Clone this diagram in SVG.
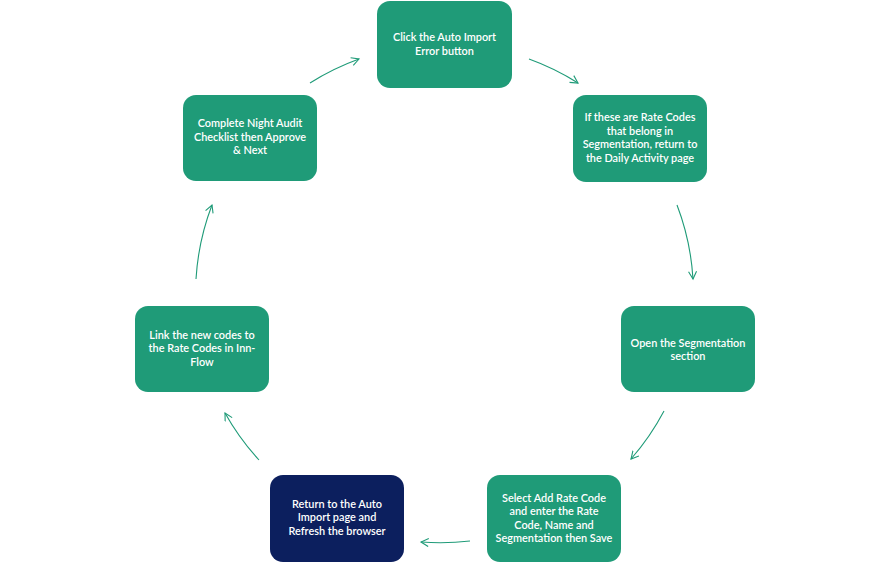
<svg xmlns="http://www.w3.org/2000/svg" width="890" height="563" viewBox="0 0 890 563">
<style>
.g{fill:#1f9b78}
.n{fill:#0c1f5e}
text{font-family:Lato,"Open Sans","Liberation Sans",sans-serif;font-size:10.9px;fill:#ffffff;text-anchor:middle;font-weight:600}
.c{fill:none;stroke:#1f9b78;stroke-width:1.1;marker-end:url(#ah)}
</style>
<defs>
<marker id="ah" markerUnits="userSpaceOnUse" markerWidth="12" markerHeight="12" refX="8" refY="4.5" orient="auto" viewBox="0 0 12 12">
<path d="M0.5,0.5 L8,4.5 L0.5,8.5" fill="none" stroke="#1f9b78" stroke-width="1.1"/>
</marker>
</defs>
<rect width="890" height="563" fill="#ffffff"/>
<g id="connectors">
<path class="c" d="M529,59 A249,249 0 0 1 578,83"/>
<path class="c" d="M677,205 A249,249 0 0 1 693,279"/>
<path class="c" d="M664,411 A249,249 0 0 1 631,459"/>
<path class="c" d="M470,541 A249,249 0 0 1 421,542"/>
<path class="c" d="M259,460 A249,249 0 0 1 225,413"/>
<path class="c" d="M196,279 A249,249 0 0 1 212,205"/>
<path class="c" d="M310,83 A249,249 0 0 1 359,59"/>
</g>
<g id="node1">
<rect class="g" x="377" y="1" width="135" height="87" rx="13"/>
<text x="444.5" y="41">Click the Auto Import</text>
<text x="444.5" y="54.5">Error button</text>
</g>
<g id="node2">
<rect class="g" x="573" y="95" width="134" height="87" rx="13"/>
<text x="640" y="121">If these are Rate Codes</text>
<text x="640" y="134.5">that belong in</text>
<text x="640" y="148">Segmentation, return to</text>
<text x="640" y="161.5">the Daily Activity page</text>
</g>
<g id="node3">
<rect class="g" x="621" y="306" width="134" height="86" rx="13"/>
<text x="688" y="346.5">Open the Segmentation</text>
<text x="688" y="359.5">section</text>
</g>
<g id="node4">
<rect class="g" x="487" y="475" width="134" height="87" rx="13"/>
<text x="554" y="501.5">Select Add Rate Code</text>
<text x="554" y="515">and enter the Rate</text>
<text x="554" y="528.5">Code, Name and</text>
<text x="554" y="542">Segmentation then Save</text>
</g>
<g id="node5">
<rect class="n" x="270" y="475" width="134" height="87" rx="13"/>
<text x="337" y="507.5">Return to the Auto</text>
<text x="337" y="521">Import page and</text>
<text x="337" y="534.5">Refresh the browser</text>
</g>
<g id="node6">
<rect class="g" x="135" y="306" width="134" height="86" rx="13"/>
<text x="202" y="338.5">Link the new codes to</text>
<text x="202" y="352">the Rate Codes in Inn-</text>
<text x="202" y="365.5">Flow</text>
</g>
<g id="node7">
<rect class="g" x="183" y="95" width="134" height="86" rx="13"/>
<text x="250" y="127">Complete Night Audit</text>
<text x="250" y="140.5">Checklist then Approve</text>
<text x="250" y="154">&amp; Next</text>
</g>
</svg>
